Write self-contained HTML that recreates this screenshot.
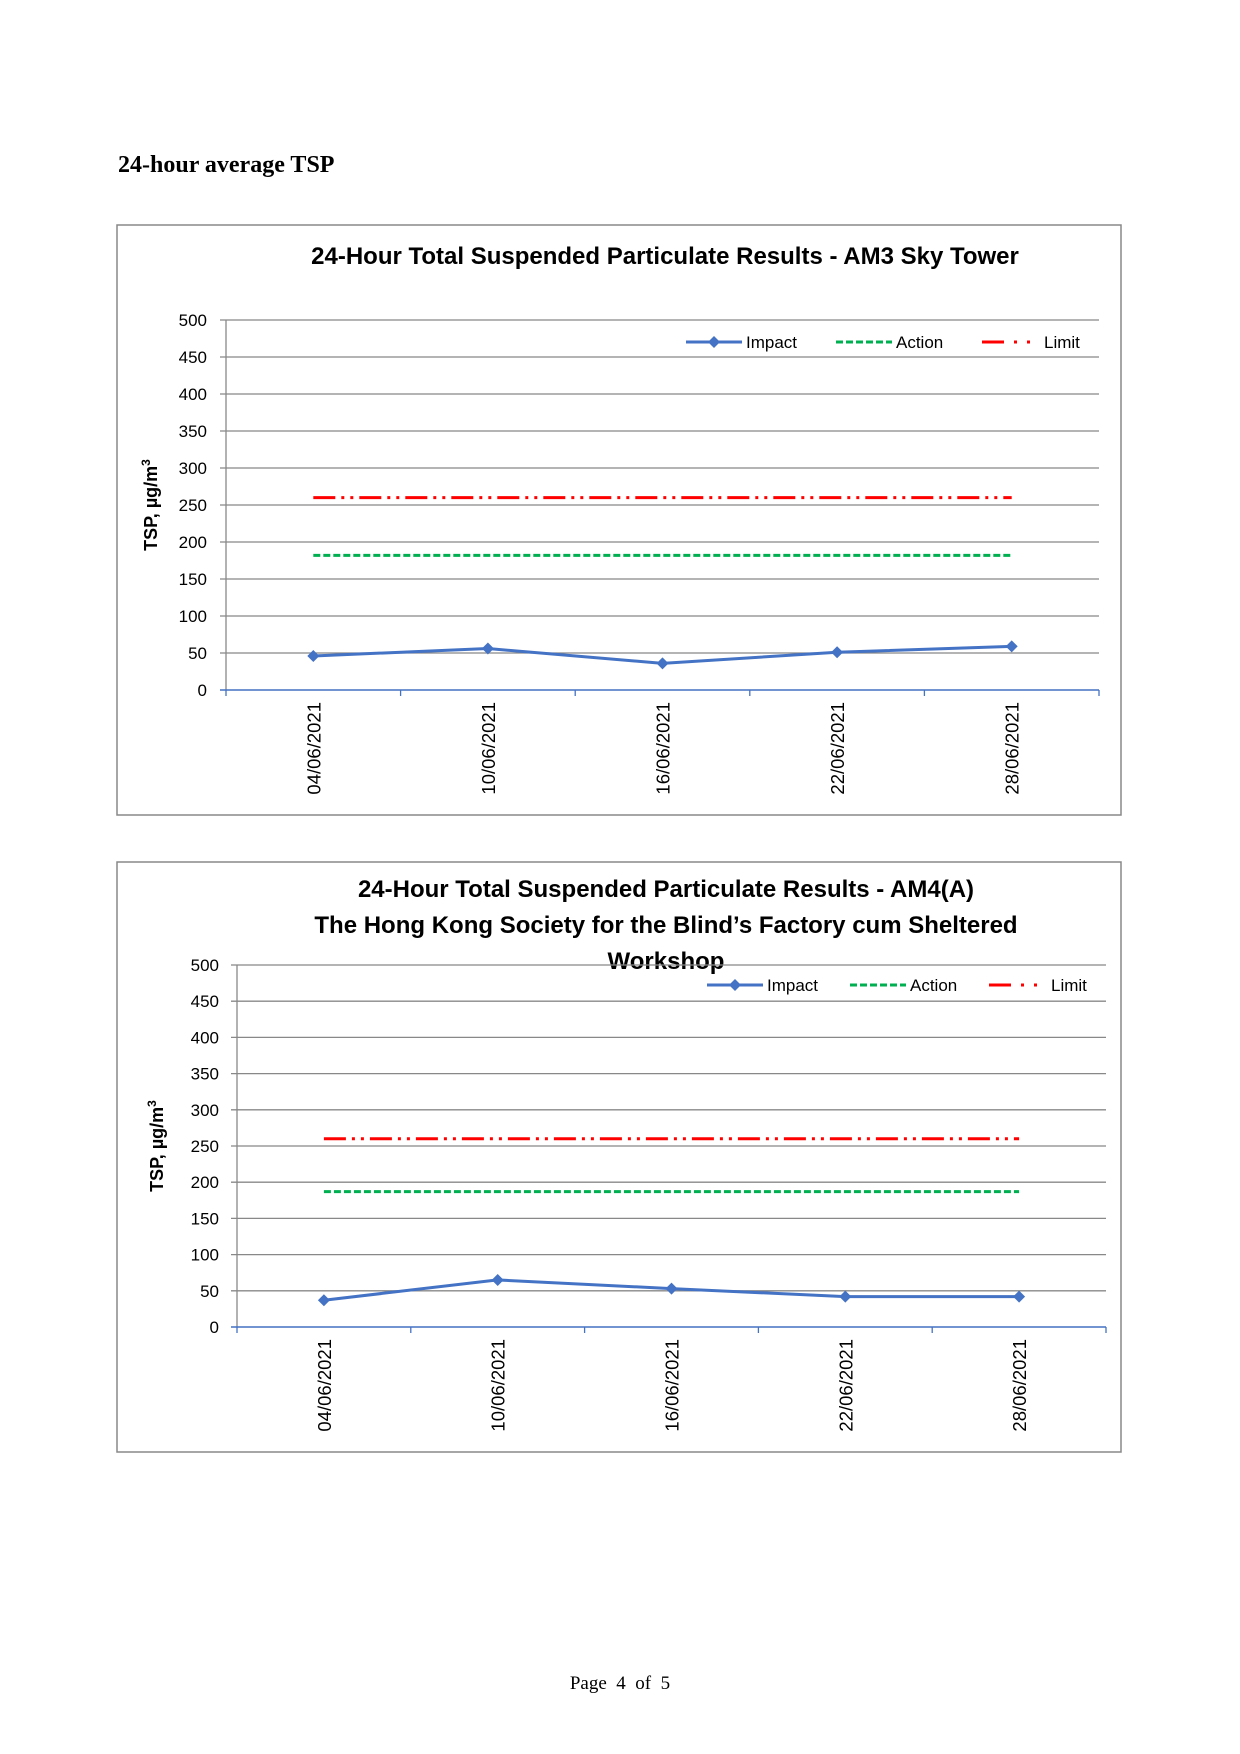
<!DOCTYPE html>
<html><head><meta charset="utf-8"><style>
body{margin:0;background:#fff;}
#page{position:relative;width:1240px;height:1754px;background:#fff;overflow:hidden;}
.h{position:absolute;font-family:"Liberation Serif",serif;}
</style></head><body>
<div id="page">
<div class="h" style="left:118px;top:152px;font-size:24px;font-weight:bold;">24-hour average TSP</div>
<svg id="c1" width="1240" height="1754" style="position:absolute;left:0;top:0"></svg>
<div class="h" style="left:0;width:1240px;text-align:center;top:1673px;font-size:19px;">Page&nbsp; 4&nbsp; of&nbsp; 5</div>
</div>
<script>
const categories=["04/06/2021","10/06/2021","16/06/2021","22/06/2021","28/06/2021"];
const yTicks=[0,50,100,150,200,250,300,350,400,450,500];
const impact1=[46,56,36,51,59];
const action1=182;
const limit1=260;
const impact2=[37,65,53,42,42];
const action2=187;
const limit2=260;
const NS="http://www.w3.org/2000/svg";
const svg=document.getElementById('c1');
function mk(tag,attrs,parent,text){const e=document.createElementNS(NS,tag);for(const k in attrs)e.setAttribute(k,attrs[k]);if(text!==undefined)e.textContent=text;(parent||svg).appendChild(e);return e;}
const FONT='"Liberation Sans", sans-serif';
function chart(cfg){
 const g=mk('g',{});
 
 
 const b=mk('rect',{x:cfg.box[0],y:cfg.box[1],width:cfg.box[2],height:cfg.box[3],fill:'#fff',stroke:'#888','stroke-width':1.5},g);
 
 
 const [x0,x1,yTop,yBot]=cfg.plot;
 const ys=v=>yBot-(v/500)*(yBot-yTop);
 const n=categories.length;
 const xs=i=>x0+(i+0.5)*(x1-x0)/n;
 cfg.title.forEach((t,i)=>{const e=mk('text',{x:cfg.titleX,y:cfg.titleY+i*36,'text-anchor':'middle','font-family':FONT,'font-weight':'bold','font-size':24,fill:'#000'},g,t);
  
  });
 yTicks.forEach(v=>{
  if(v>0){const l=mk('line',{x1:x0-6,x2:x1,y1:ys(v),y2:ys(v),stroke:'#888','stroke-width':1.3},g);
   
   }
  const t=mk('text',{x:cfg.tickX,y:ys(v)+6,'text-anchor':'end','font-family':FONT,'font-size':17},g,String(v));
  
  
 });
 mk('line',{x1:x0,x2:x0,y1:yTop,y2:yBot,stroke:'#888','stroke-width':1.3},g);
 const xa=mk('line',{x1:x0-6,x2:x1,y1:yBot,y2:yBot,stroke:'#4472C4','stroke-width':1.5},g);
 
 
 for(let i=0;i<=n;i++){mk('line',{x1:x0+i*(x1-x0)/n,x2:x0+i*(x1-x0)/n,y1:yBot,y2:yBot+6,stroke:'#4472C4','stroke-width':1.3},g);}
 categories.forEach((c,i)=>{const t=mk('text',{transform:`translate(${xs(i)+7},${yBot+12}) rotate(-90)`,'text-anchor':'end','font-family':FONT,'font-size':18.5},g,c);
  
  });
 const yt=mk('text',{transform:`translate(${cfg.ytX},${(yTop+yBot)/2}) rotate(-90)`,'text-anchor':'middle','font-family':FONT,'font-weight':'bold','font-size':18},g);
 yt.innerHTML='TSP, µg/m<tspan font-size="12" dy="-7">3</tspan>';
 
 
 const la=mk('line',{x1:xs(0),x2:xs(n-1),y1:ys(cfg.limit),y2:ys(cfg.limit),stroke:'#FF0000','stroke-width':3,'stroke-dasharray':'22 6 3 6 3 6'},g);
 
 
 const ac=mk('line',{x1:xs(0),x2:xs(n-1),y1:ys(cfg.action),y2:ys(cfg.action),stroke:'#00B050','stroke-width':3,'stroke-dasharray':'7 3'},g);
 
 
 const pl=mk('polyline',{points:cfg.impact.map((v,i)=>xs(i)+','+ys(v)).join(' '),fill:'none',stroke:'#4472C4','stroke-width':3},g);
 
 
 cfg.impact.forEach((v,i)=>{const m=mk('polygon',{points:`${xs(i)},${ys(v)-6} ${xs(i)+6},${ys(v)} ${xs(i)},${ys(v)+6} ${xs(i)-6},${ys(v)}`,fill:'#4472C4'},g);
  
  });
 const L=cfg.leg, ly=L.y;
 const lg=mk('g',{},g);
 
 
 mk('line',{x1:L.i,x2:L.i+56,y1:ly,y2:ly,stroke:'#4472C4','stroke-width':3},lg);
 mk('polygon',{points:`${L.i+28},${ly-6} ${L.i+34},${ly} ${L.i+28},${ly+6} ${L.i+22},${ly}`,fill:'#4472C4'},lg);
 mk('text',{x:L.i+60,y:ly+6,'font-family':FONT,'font-size':17},lg,'Impact');
 mk('line',{x1:L.a,x2:L.a+56,y1:ly,y2:ly,stroke:'#00B050','stroke-width':3,'stroke-dasharray':'7 3'},lg);
 mk('text',{x:L.a+60,y:ly+6,'font-family':FONT,'font-size':17},lg,'Action');
 mk('line',{x1:L.l,x2:L.l+56,y1:ly,y2:ly,stroke:'#FF0000','stroke-width':3,'stroke-dasharray':'22 10 3 10 3 10'},lg);
 mk('text',{x:L.l+62,y:ly+6,'font-family':FONT,'font-size':17},lg,'Limit');
}
chart({name:'chart-am3',box:[117,225,1004,590],plot:[226,1099,320,690],title:['24-Hour Total Suspended Particulate Results - AM3 Sky Tower'],titleX:665,titleY:264,tickX:207,ytX:157,impact:impact1,action:action1,limit:limit1,leg:{y:342,i:686,a:836,l:982}});
chart({name:'chart-am4a',box:[117,862,1004,590],plot:[237,1106,965,1327],title:['24-Hour Total Suspended Particulate Results - AM4(A)','The Hong Kong Society for the Blind’s Factory cum Sheltered','Workshop'],titleX:666,titleY:897,tickX:219,ytX:163,impact:impact2,action:action2,limit:limit2,leg:{y:985,i:707,a:850,l:989}});
</script>
</body></html>
